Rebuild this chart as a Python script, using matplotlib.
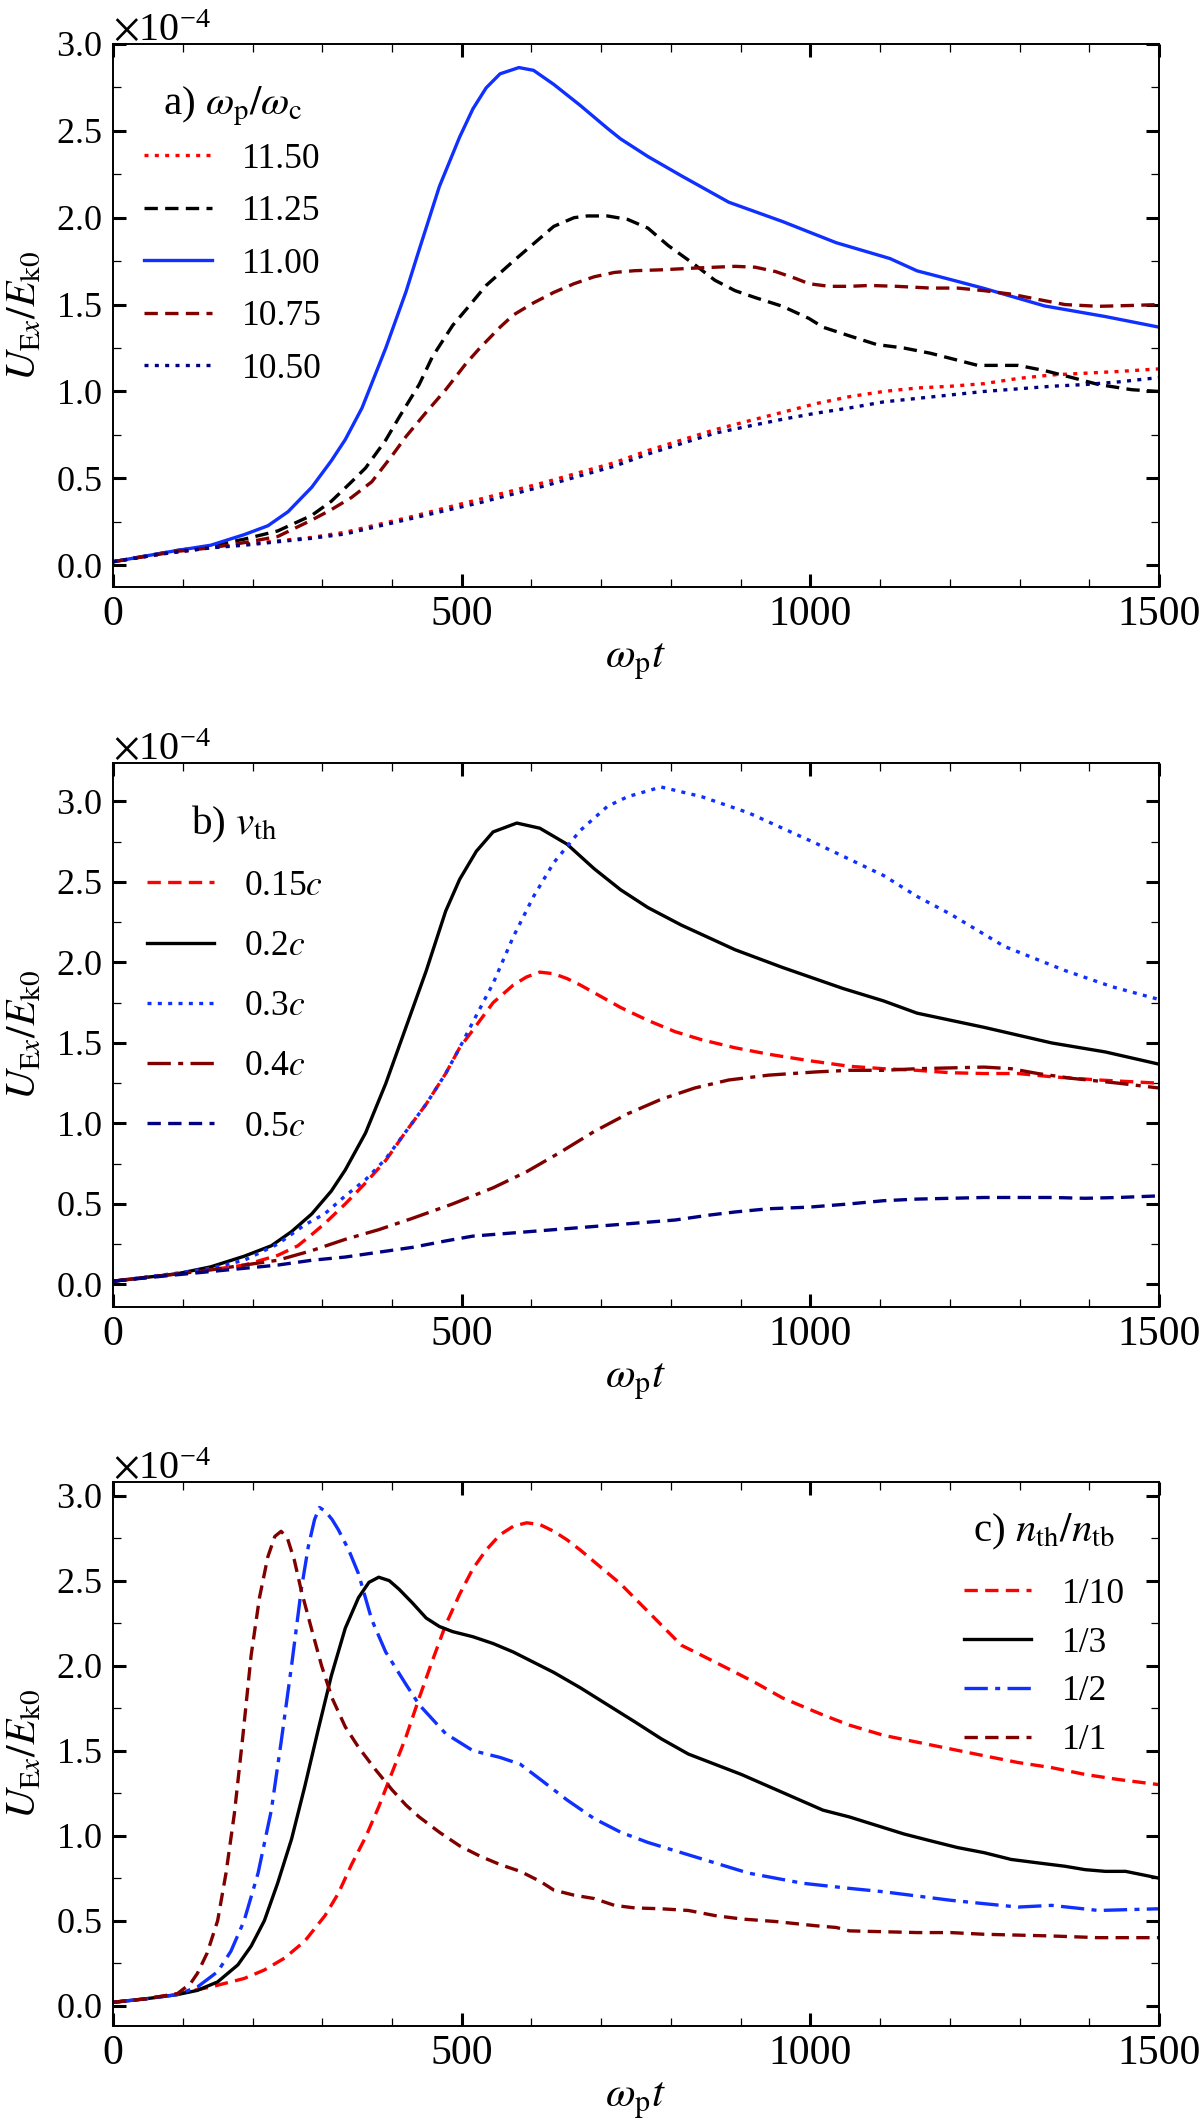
import matplotlib
matplotlib.use("Agg")
import matplotlib.pyplot as plt
from matplotlib.ticker import MultipleLocator, ScalarFormatter
import numpy as np

plt.rcParams['font.family'] = ['Liberation Serif', 'DejaVu Serif']
plt.rcParams['mathtext.fontset'] = 'stix'

SCALE = 1e-4  # curves are read in units of 1e-4

#-------------------------------------------------------------------------------
# a) omega_p / omega_c
t_a_1150 = [0, 70, 140, 188, 236, 285, 333, 381, 429, 477, 526, 574, 622, 670, 719, 767,
            815, 863, 911, 960, 1008, 1056, 1105, 1153, 1201, 1249, 1298, 1346, 1394,
            1442, 1500]
u_a_1150 = [0.02, 0.065, 0.10, 0.12, 0.14, 0.16, 0.19, 0.235, 0.28, 0.33, 0.38, 0.43,
            0.48, 0.535, 0.59, 0.66, 0.72, 0.78, 0.83, 0.88, 0.93, 0.97, 1.00, 1.02, 1.03,
            1.045, 1.075, 1.095, 1.105, 1.115, 1.13]
t_a_1125 = [0, 92, 140, 188, 236, 285, 313, 342, 362, 391, 410, 439, 458, 487, 506, 535,
            574, 603, 632, 661, 680, 709, 738, 767, 796, 834, 863, 892, 921, 960, 998,
            1018, 1056, 1095, 1134, 1172, 1211, 1240, 1269, 1298, 1336, 1375, 1413, 1461,
            1500]
u_a_1125 = [0.02, 0.085, 0.11, 0.15, 0.197, 0.287, 0.368, 0.48, 0.559, 0.72, 0.85, 1.04,
            1.20, 1.38, 1.47, 1.61, 1.75, 1.85, 1.95, 2.00, 2.01, 2.01, 1.99, 1.94, 1.84,
            1.73, 1.64, 1.58, 1.54, 1.49, 1.42, 1.37, 1.32, 1.27, 1.25, 1.22, 1.18, 1.15,
            1.15, 1.15, 1.12, 1.08, 1.04, 1.01, 1.00]
t_a_1100 = [0, 92, 140, 188, 222, 251, 285, 313, 333, 357, 391, 420, 439, 468, 497, 516,
            535, 555, 582, 603, 632, 670, 709, 728, 767, 815, 883, 960, 1037, 1114, 1153,
            1201, 1249, 1336, 1423, 1500]
u_a_1100 = [0.02, 0.085, 0.115, 0.176, 0.227, 0.308, 0.449, 0.601, 0.723, 0.905, 1.249,
            1.573, 1.816, 2.180, 2.464, 2.626, 2.747, 2.828, 2.864, 2.848, 2.767, 2.646,
            2.514, 2.453, 2.352, 2.241, 2.089, 1.978, 1.856, 1.765, 1.694, 1.644, 1.593,
            1.492, 1.431, 1.37]
t_a_1075 = [0, 92, 140, 188, 236, 285, 313, 342, 371, 400, 420, 449, 477, 506, 526, 555,
            574, 603, 632, 661, 690, 719, 748, 786, 834, 863, 892, 921, 950, 979, 998,
            1027, 1056, 1085, 1124, 1172, 1211, 1249, 1288, 1326, 1365, 1413, 1461, 1500]
u_a_1075 = [0.02, 0.08, 0.10, 0.13, 0.165, 0.26, 0.32, 0.39, 0.48, 0.63, 0.74, 0.88,
            1.01, 1.16, 1.25, 1.37, 1.44, 1.51, 1.57, 1.62, 1.66, 1.685, 1.695, 1.70,
            1.71, 1.715, 1.72, 1.715, 1.69, 1.65, 1.62, 1.605, 1.605, 1.61, 1.605, 1.595,
            1.595, 1.58, 1.56, 1.53, 1.50, 1.49, 1.495, 1.50]
t_a_1050 = [0, 70, 140, 188, 236, 285, 333, 381, 429, 477, 526, 574, 622, 670, 719, 767,
            815, 863, 911, 960, 1008, 1056, 1105, 1153, 1201, 1249, 1298, 1346, 1394,
            1442, 1500]
u_a_1050 = [0.02, 0.065, 0.10, 0.115, 0.135, 0.155, 0.18, 0.225, 0.27, 0.315, 0.36, 0.41,
            0.46, 0.515, 0.57, 0.64, 0.70, 0.76, 0.80, 0.84, 0.875, 0.905, 0.94, 0.96,
            0.98, 1.00, 1.015, 1.03, 1.04, 1.055, 1.08]

# b) v_th
t_b_015 = [0, 92, 140, 188, 236, 265, 285, 304, 333, 362, 391, 420, 449, 477, 497, 516,
           545, 574, 593, 612, 632, 651, 670, 699, 728, 767, 806, 844, 892, 940, 998,
           1056, 1105, 1153, 1201, 1249, 1298, 1346, 1413, 1500]
u_b_015 = [0.02, 0.065, 0.09, 0.12, 0.18, 0.24, 0.31, 0.38, 0.50, 0.63, 0.77, 0.95,
           1.12, 1.31, 1.47, 1.58, 1.75, 1.86, 1.91, 1.94, 1.93, 1.90, 1.86, 1.79, 1.72,
           1.64, 1.57, 1.52, 1.47, 1.43, 1.39, 1.355, 1.34, 1.33, 1.315, 1.31, 1.31,
           1.29, 1.27, 1.25]
t_b_02 = [0, 92, 140, 188, 227, 256, 285, 313, 333, 362, 391, 420, 449, 477, 497, 521,
          545, 579, 612, 651, 690, 728, 767, 815, 892, 960, 1047, 1105, 1153, 1249, 1346,
          1423, 1500]
u_b_02 = [0.02, 0.066, 0.109, 0.175, 0.24, 0.328, 0.438, 0.58, 0.711, 0.94, 1.247, 1.597,
          1.947, 2.319, 2.516, 2.691, 2.811, 2.866, 2.834, 2.735, 2.582, 2.451, 2.341,
          2.232, 2.079, 1.969, 1.838, 1.761, 1.685, 1.597, 1.50, 1.444, 1.368]
t_b_03 = [0, 92, 140, 188, 236, 275, 304, 333, 362, 391, 420, 449, 477, 497, 516, 545,
          574, 603, 632, 670, 709, 738, 786, 844, 911, 1008, 1105, 1153, 1201, 1278, 1365,
          1432, 1500]
u_b_03 = [0.02, 0.07, 0.10, 0.15, 0.25, 0.37, 0.44, 0.55, 0.65, 0.78, 0.95, 1.12, 1.31,
          1.47, 1.63, 1.87, 2.16, 2.41, 2.62, 2.82, 2.97, 3.03, 3.09, 3.03, 2.93, 2.74,
          2.54, 2.41, 2.30, 2.10, 1.95, 1.85, 1.77]
t_b_04 = [0, 92, 140, 188, 236, 285, 333, 381, 429, 487, 545, 593, 641, 690, 738, 786,
          834, 883, 940, 1008, 1056, 1105, 1153, 1201, 1249, 1288, 1326, 1375, 1442, 1500]
u_b_04 = [0.02, 0.065, 0.09, 0.12, 0.15, 0.21, 0.28, 0.34, 0.41, 0.50, 0.60, 0.70, 0.82,
          0.95, 1.06, 1.15, 1.22, 1.27, 1.30, 1.32, 1.33, 1.33, 1.34, 1.345, 1.35, 1.34,
          1.31, 1.28, 1.25, 1.22]
t_b_05 = [0, 92, 140, 188, 236, 285, 333, 381, 429, 477, 516, 574, 632, 690, 748, 806,
          854, 892, 940, 998, 1056, 1105, 1153, 1201, 1249, 1298, 1346, 1394, 1442, 1500]
u_b_05 = [0.02, 0.06, 0.08, 0.10, 0.12, 0.15, 0.17, 0.20, 0.23, 0.27, 0.30, 0.32, 0.34,
          0.36, 0.38, 0.40, 0.43, 0.45, 0.47, 0.48, 0.50, 0.52, 0.53, 0.535, 0.54, 0.54,
          0.54, 0.535, 0.54, 0.55]

# c) n_th / n_tb
t_c_110 = [0, 46, 92, 140, 188, 217, 246, 275, 304, 323, 342, 362, 381, 400, 420, 439,
           458, 477, 497, 516, 535, 555, 574, 593, 612, 632, 651, 670, 699, 728, 757, 786,
           815, 854, 883, 921, 960, 1018, 1056, 1105, 1153, 1201, 1249, 1298, 1346, 1394,
           1442, 1500]
u_c_110 = [0.02, 0.04, 0.07, 0.11, 0.16, 0.21, 0.28, 0.38, 0.53, 0.66, 0.83, 0.99, 1.17,
           1.37, 1.58, 1.81, 2.03, 2.24, 2.42, 2.57, 2.68, 2.77, 2.82, 2.84, 2.83, 2.79,
           2.74, 2.68, 2.58, 2.48, 2.36, 2.24, 2.12, 2.04, 1.98, 1.90, 1.81, 1.71, 1.65,
           1.59, 1.55, 1.51, 1.47, 1.43, 1.40, 1.36, 1.33, 1.30]
t_c_13 = [0, 46, 92, 121, 150, 179, 198, 217, 236, 256, 275, 294, 313, 333, 352, 367,
          381, 396, 410, 429, 449, 468, 487, 516, 545, 574, 603, 632, 670, 709, 748, 786,
          825, 863, 901, 940, 979, 1018, 1056, 1095, 1134, 1172, 1211, 1249, 1288, 1326,
          1365, 1394, 1423, 1452, 1500]
u_c_13 = [0.02, 0.04, 0.065, 0.09, 0.14, 0.24, 0.35, 0.50, 0.72, 0.98, 1.29, 1.62, 1.94,
          2.22, 2.40, 2.49, 2.52, 2.50, 2.45, 2.37, 2.28, 2.23, 2.20, 2.17, 2.13, 2.08,
          2.02, 1.96, 1.87, 1.77, 1.67, 1.57, 1.48, 1.42, 1.36, 1.29, 1.22, 1.15, 1.11,
          1.06, 1.01, 0.97, 0.93, 0.90, 0.86, 0.84, 0.82, 0.80, 0.79, 0.79, 0.75]
t_c_12 = [0, 46, 92, 121, 150, 169, 188, 208, 227, 241, 256, 270, 280, 289, 296, 304,
          314, 323, 338, 352, 371, 391, 420, 439, 477, 516, 555, 584, 613, 651, 690, 728,
          767, 815, 863, 911, 989, 1056, 1105, 1201, 1249, 1298, 1346, 1413, 1500]
u_c_12 = [0.02, 0.04, 0.065, 0.11, 0.20, 0.32, 0.50, 0.78, 1.15, 1.55, 2.00, 2.45, 2.70,
          2.86, 2.93, 2.91, 2.86, 2.80, 2.68, 2.54, 2.27, 2.08, 1.89, 1.77, 1.60, 1.50,
          1.46, 1.42, 1.33, 1.21, 1.10, 1.02, 0.96, 0.90, 0.84, 0.78, 0.72, 0.69, 0.67,
          0.62, 0.60, 0.58, 0.59, 0.56, 0.57]
t_c_11 = [0, 46, 92, 111, 121, 135, 150, 162, 174, 186, 198, 210, 222, 232, 241, 250,
          260, 270, 285, 299, 314, 333, 352, 376, 400, 420, 439, 468, 497, 526, 555, 584,
          613, 632, 661, 690, 719, 748, 786, 825, 863, 901, 950, 1008, 1037, 1056, 1105,
          1153, 1201, 1249, 1298, 1346, 1413, 1500]
u_c_11 = [0.02, 0.04, 0.07, 0.13, 0.19, 0.31, 0.50, 0.78, 1.13, 1.58, 2.06, 2.40, 2.64,
          2.76, 2.79, 2.75, 2.62, 2.44, 2.21, 2.00, 1.81, 1.64, 1.52, 1.39, 1.27, 1.18,
          1.11, 1.02, 0.94, 0.88, 0.83, 0.79, 0.73, 0.68, 0.65, 0.63, 0.59, 0.575, 0.57,
          0.56, 0.53, 0.51, 0.495, 0.47, 0.46, 0.44, 0.435, 0.43, 0.43, 0.42, 0.415,
          0.41, 0.40, 0.40]

#-------------------------------------------------------------------------------

RED = '#ff0000'
BLUE = '#1030ff'
MAROON = '#800000'
NAVY = '#000080'
BLACK = 'black'

LW = 2.4
DOT = (1.2, 1.9)
DASH = (4.0, 2.2)
DASHDOT = (7.0, 2.2, 1.5, 2.2)

LEG_FS = 25.5


def style_axes(ax, ylim):
  ax.set_xlim(0, 1500)
  ax.set_ylim(ylim[0]*SCALE, ylim[1]*SCALE)
  ax.xaxis.set_major_locator(MultipleLocator(500))
  ax.xaxis.set_minor_locator(MultipleLocator(100))
  ax.yaxis.set_major_locator(MultipleLocator(0.5*SCALE))
  ax.yaxis.set_minor_locator(MultipleLocator(0.25*SCALE))
  fmt = ScalarFormatter(useMathText=True)
  fmt.set_powerlimits((0, 0))
  ax.yaxis.set_major_formatter(fmt)
  ax.tick_params(which='both', direction='in', top=True, right=True)
  ax.tick_params(which='major', length=9.5, width=2.2)
  ax.tick_params(which='minor', length=5.5, width=0.9)
  ax.tick_params(axis='x', which='major', labelsize=30, pad=6)
  ax.tick_params(axis='y', which='major', labelsize=26, pad=8)
  for sp in ax.spines.values():
    sp.set_linewidth(1.4)
  ax.set_xlabel(r'$\omega_{\mathrm{p}}t$', fontsize=31)
  ax.set_ylabel(r'$U_{\mathrm{E}x}/E_{\mathrm{k0}}$', fontsize=30)
  ax.xaxis.set_label_coords(0.5, -0.1)
  ax.yaxis.set_label_coords(-0.066, 0.5)
  ax.yaxis.offsetText.set_fontsize(29)


def draw(ax, t, u, label, color, dashes=None):
  line, = ax.plot(t, np.array(u)*SCALE, color=color, lw=LW, label=label)
  if dashes is not None:
    line.set_dashes(dashes)


def add_legend(ax, title, loc, anchor, spacing, title_gap):
  leg = ax.legend(title=title, loc=loc, bbox_to_anchor=anchor, frameon=False,
                  fontsize=LEG_FS, title_fontsize=29.5, borderpad=0, borderaxespad=0,
                  labelspacing=spacing, handlelength=1.9, handletextpad=0.85)
  # gap between the title and the first entry
  leg._legend_box.sep = title_gap*LEG_FS
  return leg


def main():
  fig = plt.figure(figsize=(12, 21.22), dpi=100)
  ax_a = fig.add_axes([0.0942, 0.7234, 0.8717, 0.2559])
  ax_b = fig.add_axes([0.0942, 0.3841, 0.8717, 0.2564])
  ax_c = fig.add_axes([0.0942, 0.0452, 0.8717, 0.2564])

  # a)
  draw(ax_a, t_a_1150, u_a_1150, '11.50', RED, DOT)
  draw(ax_a, t_a_1125, u_a_1125, '11.25', BLACK, DASH)
  draw(ax_a, t_a_1100, u_a_1100, '11.00', BLUE)
  draw(ax_a, t_a_1075, u_a_1075, '10.75', MAROON, DASH)
  draw(ax_a, t_a_1050, u_a_1050, '10.50', NAVY, DOT)
  style_axes(ax_a, (-0.125, 3.0))
  add_legend(ax_a, r'a) $\omega_{\mathrm{p}}/\omega_{\mathrm{c}}$', 'upper left',
             (0.03, 0.925), 0.55, 0.42)

  # b)
  draw(ax_b, t_b_015, u_b_015, r'0.15$c$', RED, DASH)
  draw(ax_b, t_b_02, u_b_02, r'0.2$c$', BLACK)
  draw(ax_b, t_b_03, u_b_03, r'0.3$c$', BLUE, DOT)
  draw(ax_b, t_b_04, u_b_04, r'0.4$c$', MAROON, DASHDOT)
  draw(ax_b, t_b_05, u_b_05, r'0.5$c$', NAVY, DASH)
  style_axes(ax_b, (-0.14, 3.24))
  add_legend(ax_b, r'b) $v_{\mathrm{th}}$', 'upper left', (0.032, 0.925), 0.77, 0.7)

  # c)
  draw(ax_c, t_c_110, u_c_110, '1/10', RED, DASH)
  draw(ax_c, t_c_13, u_c_13, '1/3', BLACK)
  draw(ax_c, t_c_12, u_c_12, '1/2', BLUE, DASHDOT)
  draw(ax_c, t_c_11, u_c_11, '1/1', MAROON, DASH)
  style_axes(ax_c, (-0.12, 3.08))
  add_legend(ax_c, r'c) $n_{\mathrm{th}}/n_{\mathrm{tb}}$', 'upper right',
             (0.967, 0.945), 0.45, 0.72)

  fig.savefig('out.png', dpi=100)
  plt.close(fig)


if __name__ == "__main__":
  main()
